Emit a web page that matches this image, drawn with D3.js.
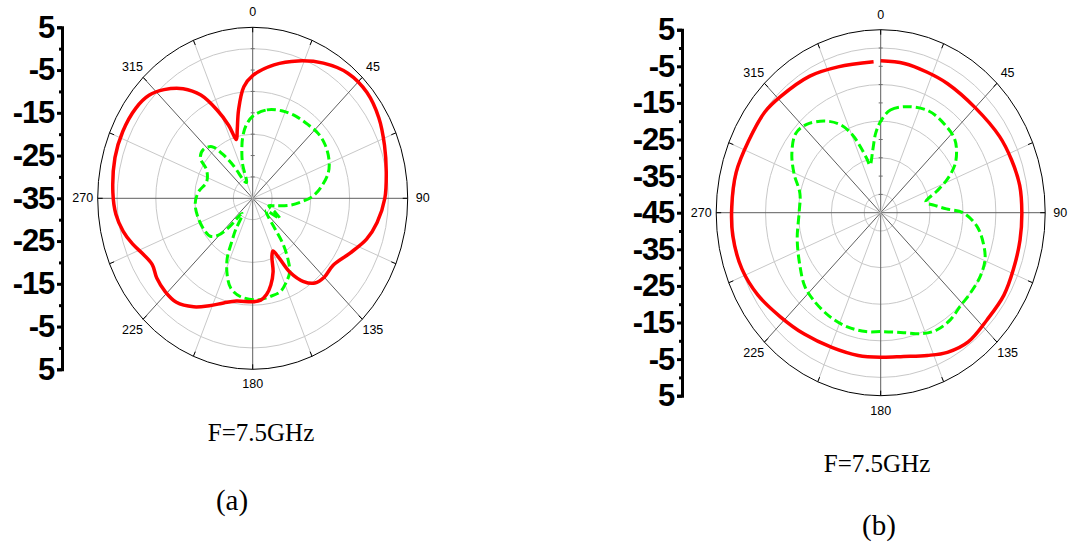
<!DOCTYPE html>
<html>
<head>
<meta charset="utf-8">
<script src="https://cdn.jsdelivr.net/npm/d3@7/dist/d3.min.js"></script>
<style>
  body { margin: 0; background: #fff; }
</style>
</head>
<body>
<script>
// ---- data, chart (a) ----
var anglesRedA = [0, 10, 20, 30, 40, 50, 60, 70, 80, 90, 100, 108, 117, 127, 135, 141, 146, 151, 154, 157,
  160, 163, 167, 171, 175, 180, 190, 197, 204, 211, 219, 226, 233, 239, 245, 251, 257, 264, 272, 285,
  295, 305, 312, 318, 325, 331, 336, 340, 343, 346, 350, 355];
var valuesRedA = [-6.3, -3.3, -0.8, 1.5, 3.2, 3.5, 2.6, 1.2, 0, -0.9, -2.4, -4.1, -6.8, -9.0, -8.9, -9.5, -11.5, -15.3, -19.5, -21.6,
  -20.5, -17, -14.2, -12.2, -11.1, -10.8, -10.6, -9.4, -7.5, -5.4, -3.7, -3.6, -4.0, -4.8, -3.9, -2.2, -0.7, 0.5, 1.1, 1.8,
  2.0, 1.8, 1.0, -0.8, -3.7, -7.4, -12.4, -16.8, -20.6, -18.5, -14, -8.8];

var anglesGreenA = [0, 10, 20, 30, 40, 48, 56, 65, 73, 81, 88, 94, 100, 107, 113, 119, 124, 130, 136, 141,
  144, 148, 151, 156, 162, 169, 177, 188, 195, 200, 205, 208, 211, 214, 218, 222, 226, 231, 238, 252,
  265, 276, 288, 299, 305, 312, 319, 323, 327, 332, 337, 342, 347, 350, 354];
var valuesGreenA = [-15.8, -14.0, -13.2, -12.8, -12.6, -12.3, -12.5, -13.3, -14.6, -17, -19.4, -22.5, -25.5, -29, -30.5, -28.5, -26.5, -30.5, -29.5, -26,
  -21.5, -17.6, -15.3, -13.6, -12, -11.6, -11.2, -11.8, -13.2, -15.8, -19.4, -23.5, -26.5, -30, -30.5, -26, -22.5, -20.9, -20.5, -20.2,
  -20.1, -20.9, -22.5, -21.4, -18.5, -17.9, -19, -22, -26, -30.5, -31, -26.5, -22.6, -20.3, -18];

var ringsA = [-30, -20, -10, 0];
var scaleLabelsA = ["5", "-5", "-15", "-25", "-35", "-25", "-15", "-5", "5"];

// ---- data, chart (b) ----
var anglesRedB = [0, 10, 20, 30, 45, 60, 70, 80, 90, 100, 111, 121, 132, 143, 152, 160, 170, 180, 190, 202,
  215, 227, 239, 250, 262, 272, 284, 296, 308, 316, 330, 342, 357];
var valuesRedB = [-3.5, -3.6, -4.1, -4.3, -4.4, -3.3, -2.7, -2.1, -2.1, -2.0, -1.8, -1.3, -1.4, -0.8, -1.8, -3.5, -5.1, -5.5, -5.4, -5.3,
  -4.5, -3.3, -1.4, -0.1, 0.4, 0.3, 0.3, -0.3, -0.3, -1.0, -1.9, -3.1, -3.7];

var anglesGreenB = [0, 6, 15, 28, 40, 48, 54, 60, 66, 71, 78, 83, 87, 90, 97, 105, 112, 120, 129, 137,
  144, 152, 159, 168, 179, 188, 198, 209, 221, 229, 239, 254, 270, 282, 292, 301, 310, 317, 326, 333,
  338, 341, 344, 346, 352, 356];
var valuesGreenB = [-20, -16.8, -15, -13.6, -14.1, -14.8, -16.5, -19, -23, -27, -31, -28.5, -25, -20, -15.6, -12.7, -10.8, -10.1, -10, -9.8,
  -8.9, -8.7, -9.6, -11.5, -12.5, -12.2, -12.2, -12.7, -13.6, -14.4, -16.4, -18.6, -20.2, -19.9, -16.6, -13.5, -11.3, -12, -14.8, -18,
  -22, -25.9, -29.6, -31.6, -27.7, -23.2];

var ringsB = [-40, -30, -20, -10, 0];
var scaleLabelsB = ["5", "-5", "-15", "-25", "-35", "-45", "-35", "-25", "-15", "-5", "5"];

var angleLabels = [0, 45, 90, 135, 180, 225, 270, 315];

var svg = d3.select("body").append("svg")
    .attr("width", 1070)
    .attr("height", 550);

function rad(a) { return a * Math.PI / 180; }

function drawPolar(cfg) {
    var g = svg.append("g");
    var rX = d3.scaleLinear().domain([cfg.min, cfg.max]).range([0, cfg.rx]);
    var rY = d3.scaleLinear().domain([cfg.min, cfg.max]).range([0, cfg.ry]);
    var px = function(a, v) { return cfg.cx + rX(v) * Math.sin(rad(a)); };
    var py = function(a, v) { return cfg.cy - rY(v) * Math.cos(rad(a)); };

    // grid rings
    g.selectAll(".ring").data(cfg.rings).enter().append("ellipse")
        .attr("cx", cfg.cx).attr("cy", cfg.cy)
        .attr("rx", function(d) { return rX(d); })
        .attr("ry", function(d) { return rY(d); })
        .attr("fill", "none")
        .attr("stroke", "#c8c8c8")
        .attr("stroke-width", 1);

    // spokes every 22.5 deg
    var spokes = d3.range(0, 360, 22.5);
    g.selectAll(".spoke").data(spokes).enter().append("line")
        .attr("x1", cfg.cx).attr("y1", cfg.cy)
        .attr("x2", function(d) { return px(d, cfg.max); })
        .attr("y2", function(d) { return py(d, cfg.max); })
        .attr("stroke", function(d) { return d % 45 === 0 ? "#5e5e5e" : "#c8c8c8"; })
        .attr("stroke-width", 1);

    // small ticks on the 0 deg radial axis
    var rt = d3.range(cfg.min + 5, cfg.max, 5);
    g.selectAll(".rtick").data(rt).enter().append("line")
        .attr("x1", cfg.cx - 2).attr("x2", cfg.cx + 2)
        .attr("y1", function(d) { return py(0, d); })
        .attr("y2", function(d) { return py(0, d); })
        .attr("stroke", "#6e6e6e");

    // outer rim
    g.append("ellipse")
        .attr("cx", cfg.cx).attr("cy", cfg.cy)
        .attr("rx", rX(cfg.max)).attr("ry", rY(cfg.max))
        .attr("fill", "none")
        .attr("stroke", "#000")
        .attr("stroke-width", 1);

    g.selectAll(".rim").data(spokes).enter().append("line")
        .attr("x1", function(d) { return cfg.cx + cfg.rx * Math.sin(rad(d)); })
        .attr("y1", function(d) { return cfg.cy - cfg.ry * Math.cos(rad(d)); })
        .attr("x2", function(d) { return cfg.cx + (cfg.rx - 5) * Math.sin(rad(d)); })
        .attr("y2", function(d) { return cfg.cy - (cfg.ry - 5) * Math.cos(rad(d)); })
        .attr("stroke", "#000");

    // angle labels
    g.selectAll(".alab").data(angleLabels).enter().append("text")
        .attr("x", function(d) { return cfg.cx + (cfg.rx + 15) * Math.sin(rad(d)); })
        .attr("y", function(d) { return cfg.cy - (cfg.ry + 15) * Math.cos(rad(d)); })
        .attr("text-anchor", "middle")
        .attr("dominant-baseline", "central")
        .style("font-family", "'Liberation Sans', Arial, sans-serif")
        .style("font-size", "12.5px")
        .text(function(d) { return d; });

    var line = d3.line()
        .x(function(d) { return px(d[0], d[1]); })
        .y(function(d) { return py(d[0], d[1]); });

    g.append("path")
        .datum(d3.zip(cfg.greenAngles, cfg.greenValues))
        .attr("d", line.curve(d3.curveCatmullRomClosed.alpha(0.5)))
        .attr("fill", "none")
        .attr("stroke", "#00ff00")
        .attr("stroke-width", 3)
        .attr("stroke-dasharray", "9,4");

    g.append("path")
        .datum(d3.zip(cfg.redAngles, cfg.redValues))
        .attr("d", line.curve(cfg.redClosed ? d3.curveCatmullRomClosed.alpha(0.5) : d3.curveCatmullRom.alpha(0.5)))
        .attr("fill", "none")
        .attr("stroke", "#ff0000")
        .attr("stroke-width", 3.5)
        .attr("stroke-linejoin", "round");

    // dB scale bar on the left
    var n = cfg.scaleLabels.length;
    var yPos = d3.scaleLinear()
        .domain([0, n - 1])
        .range([cfg.cy - cfg.ry, cfg.cy + cfg.ry]);

    var ag = svg.append("g")
        .attr("transform", "translate(" + cfg.axisX + ",0)")
        .call(d3.axisLeft(yPos)
            .tickValues(d3.range(n))
            .tickFormat(function(i) { return cfg.scaleLabels[i]; })
            .tickSize(5)
            .tickSizeOuter(5)
            .tickPadding(3));
    ag.attr("font-family", "'Liberation Sans', Arial, sans-serif")
        .attr("font-size", 31)
        .attr("font-weight", "bold");
    ag.select(".domain").attr("stroke-width", 3);
    ag.selectAll(".tick line").attr("stroke-width", 3);
    ag.selectAll(".tick text").attr("letter-spacing", -1.2);

    var mg = svg.append("g")
        .attr("transform", "translate(" + cfg.axisX + ",0)")
        .call(d3.axisLeft(yPos)
            .tickValues(d3.range(n - 1).map(function(i) { return i + 0.5; }))
            .tickFormat("")
            .tickSize(3));
    mg.select(".domain").remove();
    mg.selectAll(".tick line").attr("stroke-width", 3);

    // captions
    svg.append("text")
        .attr("x", cfg.capX).attr("y", cfg.capY)
        .attr("text-anchor", "middle")
        .style("font-family", "'Liberation Serif', 'Times New Roman', serif")
        .style("font-size", "25px")
        .text("F=7.5GHz");
    svg.append("text")
        .attr("x", cfg.subX).attr("y", cfg.subY)
        .attr("text-anchor", "middle")
        .style("font-family", "'Liberation Serif', 'Times New Roman', serif")
        .style("font-size", "29px")
        .text(cfg.sub);
}

drawPolar({
    cx: 252.7, cy: 198.3, rx: 155, ry: 171, min: -35, max: 5,
    rings: ringsA, scaleLabels: scaleLabelsA, axisX: 62,
    redAngles: anglesRedA, redValues: valuesRedA, redClosed: true,
    greenAngles: anglesGreenA, greenValues: valuesGreenA,
    capX: 261, capY: 441, sub: "(a)", subX: 232, subY: 510
});

drawPolar({
    cx: 880.7, cy: 212.7, rx: 164.5, ry: 183, min: -45, max: 5,
    rings: ringsB, scaleLabels: scaleLabelsB, axisX: 682,
    redAngles: anglesRedB, redValues: valuesRedB, redClosed: false,
    greenAngles: anglesGreenB, greenValues: valuesGreenB,
    capX: 877, capY: 472, sub: "(b)", subX: 879, subY: 535
});
</script>
</body>
</html>
